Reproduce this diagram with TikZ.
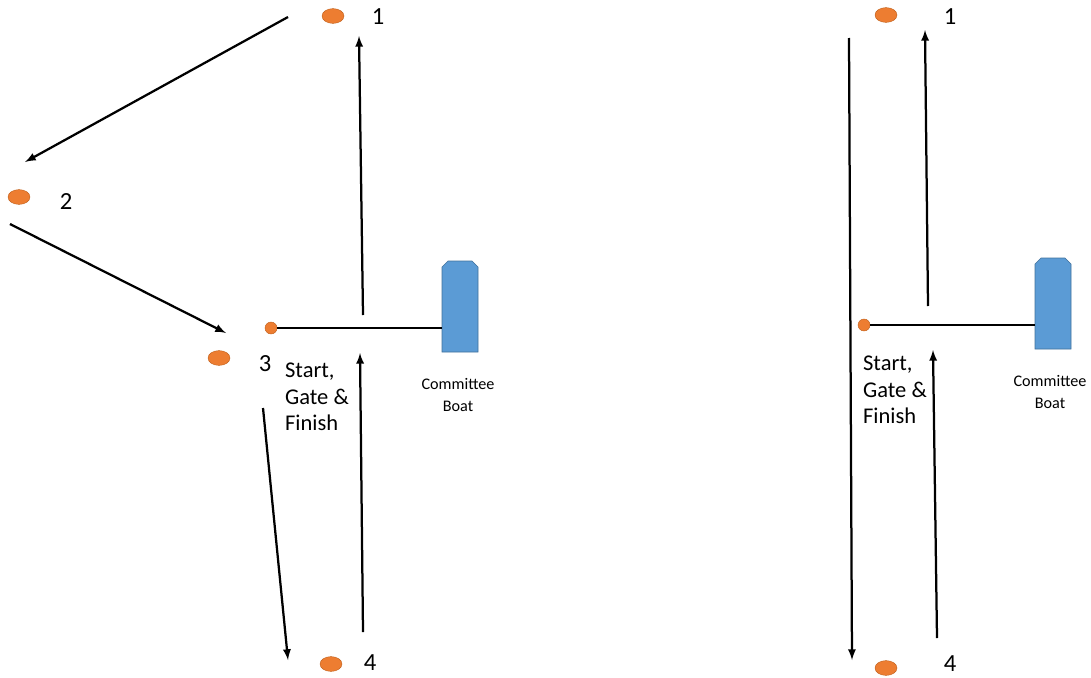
\documentclass[tikz,border=0pt]{standalone}
\usepackage{fontspec}
\setmainfont{Carlito}
\usetikzlibrary{arrows,shapes}
\definecolor{buoyfill}{HTML}{ED7D31}
\definecolor{buoyline}{HTML}{C0621F}
\definecolor{boatfill}{HTML}{5B9BD5}
\definecolor{boatline}{HTML}{41719C}
\tikzstyle{buoy}=[ellipse,fill=buoyfill,draw=buoyline,line width=0.3pt,minimum width=0.55cm,minimum height=0.37cm,inner sep=0pt]
\tikzstyle{pin}=[circle,fill=buoyfill,draw=buoyline,line width=0.3pt,minimum size=0.3cm,inner sep=0pt]
\tikzstyle{boat}=[fill=boatfill,draw=boatline,line width=0.4pt]
\tikzstyle{num}=[font=\fontsize{17.5}{20}\selectfont,inner sep=1pt]
\tikzstyle{gate}=[align=left,font=\fontsize{16}{18.7}\selectfont,inner sep=0pt]
\tikzstyle{cboat}=[align=center,font=\fontsize{11.5}{15}\selectfont,inner sep=0pt]
\tikzstyle{leg} = [draw,line width=1.6pt,-latex]
\tikzstyle{line} = [draw,line width=1.6pt,-]

\begin{document}
\begin{tikzpicture}[x=0.025cm,y=-0.025cm]
    \useasboundingbox (0,0) rectangle (1091,677);
    % Left course: the marks
    \foreach \pos/\name in {{(333,16)/m1}, {(19,197)/m2}, {(219,358)/m3}, {(331,664)/m4}}
        \node[buoy] (\name) at \pos {};
    \foreach \pos/\name/\txt in {{(378,17)/n1/1}, {(66,202)/n2/2}, {(265,364)/n3/3}, {(370,663)/n4/4}}
        \node[num] (\name) at \pos {\txt};
    \node[pin] (dotL) at (271,328) {};
    \path[boat] (442,352) -- (442,267) -- (448,261) -- (472,261) -- (478,267) -- (478,352) -- cycle;
    \coordinate (boatL) at (442,306);
    \node[gate] (gateL) at (317,397) {Start,\\Gate \&\\Finish};
    \node[cboat] (cbL) at (458,395) {Committee\\Boat};
    \path[line] (dotL) -- (dotL -| boatL);

    % Right course
    \foreach \pos/\name in {{(886,15)/r1}, {(886,668)/r4}}
        \node[buoy] (\name) at \pos {};
    \foreach \pos/\name/\txt in {{(950,17)/q1/1}, {(950,664)/q4/4}}
        \node[num] (\name) at \pos {\txt};
    \node[pin] (dotR) at (864,325) {};
    \path[boat] (1035,349) -- (1035,264) -- (1041,258) -- (1065,258) -- (1071,264) -- (1071,349) -- cycle;
    \coordinate (boatR) at (1035,303);
    \node[gate] (gateR) at (895,390) {Start,\\Gate \&\\Finish};
    \node[cboat] (cbR) at (1050,392) {Committee\\Boat};
    \path[line] (dotR) -- (dotR -| boatR);

    % Ends of the legs
    \foreach \pos/\name in {{(288,17)/a1}, {(25,162)/a2}, {(10,224)/b1}, {(226,333)/b2}, {(363,315)/c1}, {(359,36)/c2}, {(263,408)/d1}, {(288,660)/d2}, {(363,632)/e1}, {(360,353)/e2}, {(849,38)/f1}, {(852,660)/f2}, {(928,306)/g1}, {(925,30)/g2}, {(937,638)/h1}, {(933,350)/h2}}
        \path \pos coordinate (\name);

    % Connect the ends with arrows
    \foreach \source/ \dest in {a1/a2, b1/b2, c1/c2, d1/d2, e1/e2, f1/f2, g1/g2, h1/h2}
        \path[leg] (\source) -- (\dest) ;

\end{tikzpicture}
\end{document}
